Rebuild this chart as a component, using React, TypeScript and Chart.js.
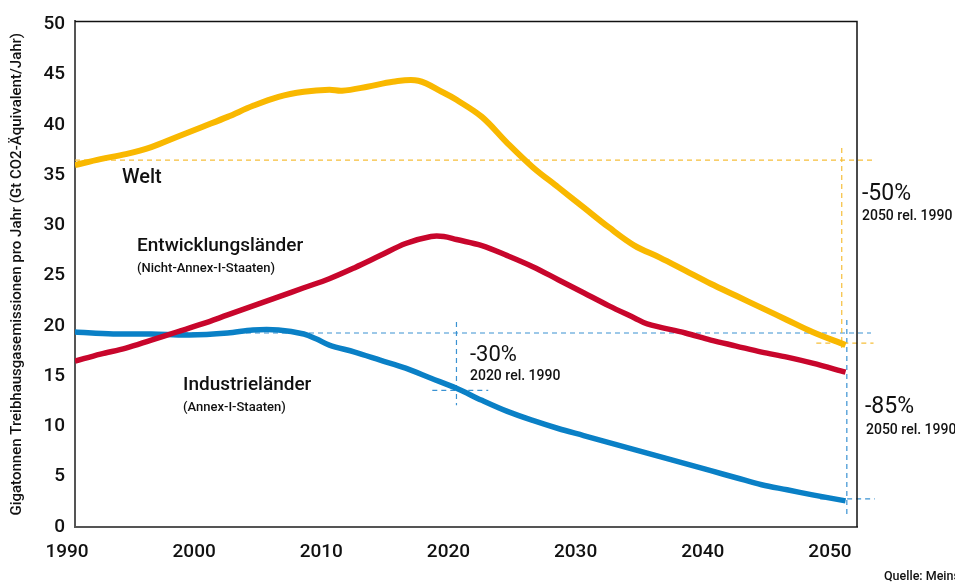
import React, { useEffect, useRef } from "react";
import { Chart, registerables } from "chart.js";

Chart.register(...registerables);

// ---- Data (Gt CO2-Äquivalent / Jahr) ----
const xTickYears = [1990, 2000, 2010, 2020, 2030, 2040, 2050];

const weltYears = [1990, 1992, 1994, 1996, 1998, 2000, 2002, 2004, 2006, 2008, 2010, 2011, 2013, 2015, 2017, 2019, 2020, 2022, 2024, 2026, 2028, 2030, 2032, 2034, 2036, 2038, 2040, 2042, 2044, 2046, 2048, 2050.6];
const weltValues = [36.0, 36.6, 37.1, 37.8, 38.8, 39.8, 40.8, 41.9, 42.8, 43.3, 43.5, 43.4, 43.8, 44.3, 44.4, 43.2, 42.5, 40.8, 38.2, 35.8, 33.8, 31.8, 29.8, 28.0, 26.8, 25.5, 24.2, 23.0, 21.8, 20.6, 19.4, 18.1];

const entwYears = [1990, 1992, 1994, 1996, 1998, 2000, 2002, 2004, 2006, 2008, 2010, 2012, 2014, 2016, 2018, 2019, 2020, 2022, 2024, 2026, 2028, 2030, 2032, 2034, 2035, 2038, 2040, 2042, 2044, 2046, 2048, 2050.6];
const entwValues = [16.5, 17.2, 17.8, 18.6, 19.4, 20.2, 21.1, 22.0, 22.9, 23.8, 24.7, 25.8, 27.0, 28.2, 28.9, 28.9, 28.6, 28.0, 27.0, 25.9, 24.6, 23.3, 22.0, 20.8, 20.2, 19.3, 18.6, 18.0, 17.4, 16.9, 16.3, 15.4];

const indYears = [1990, 1993, 1996, 1999, 2002, 2004, 2006, 2008, 2009, 2010, 2012, 2014, 2016, 2018, 2020, 2022, 2024, 2026, 2028, 2030, 2032, 2034, 2036, 2038, 2040, 2042, 2044, 2046, 2048, 2050.6];
const indValues = [19.4, 19.2, 19.2, 19.1, 19.3, 19.6, 19.6, 19.2, 18.7, 18.1, 17.4, 16.6, 15.8, 14.8, 13.8, 12.6, 11.5, 10.6, 9.8, 9.1, 8.4, 7.7, 7.0, 6.3, 5.6, 4.9, 4.2, 3.7, 3.2, 2.6];

// Reference (dashed) guide lines, in data units: [x0, y0, x1, y1]
const weltRefH = [1990, 36.5, 2052.7, 36.5];
const weltRefV = [2050.3, 37.7, 2050.3, 17.8];
const weltRefShort = [2048.3, 18.3, 2052.8, 18.3];
const indRefH = [1990, 19.3, 2052.6, 19.3];
const indRefV2020 = [2020, 20.4, 2020, 12.1];
const indRefShort2020 = [2018.1, 13.6, 2022.5, 13.6];
const indRefV2050 = [2050.7, 20.6, 2050.7, 1.2];
const indRefShort2050 = [2048.6, 2.8, 2052.9, 2.8];

const YELLOW = "#F9B800";
const RED = "#C8062C";
const BLUE = "#0A80C6";
const YELLOW_DASH = "#F6BF3A";
const BLUE_DASH = "#3A92D2";

const FONT = "Roboto, 'DejaVu Sans', sans-serif";

function toPoints(xs: number[], ys: number[]) {
  return xs.map((x, i) => ({ x, y: ys[i] }));
}
function seg(s: number[]) {
  return [
    { x: s[0], y: s[1] },
    { x: s[2], y: s[3] },
  ];
}

function dashed(data: number[], color: string) {
  return {
    data: seg(data),
    borderColor: color,
    borderWidth: 1.2,
    borderDash: [5, 4],
    pointRadius: 0,
    fill: false,
    clip: false as any,
    order: 10,
    tension: 0,
  };
}

function mainLine(label: string, xs: number[], ys: number[], color: string, width: number, order: number) {
  return {
    label,
    data: toPoints(xs, ys),
    borderColor: color,
    borderWidth: width,
    pointRadius: 0,
    tension: 0.35,
    borderCapStyle: "butt",
    borderJoinStyle: "round",
    order,
  };
}

const overlay = {
  id: "overlay",
  afterDraw(chart: any) {
    const ctx = chart.ctx as CanvasRenderingContext2D;
    const a = chart.chartArea;
    ctx.save();
    // top and right frame
    ctx.strokeStyle = "#111";
    ctx.lineWidth = 1.5;
    ctx.beginPath();
    ctx.moveTo(a.left, a.top);
    ctx.lineTo(a.right, a.top);
    ctx.lineTo(a.right, a.bottom);
    ctx.stroke();

    ctx.fillStyle = "#111";
    ctx.textBaseline = "middle";
    ctx.textAlign = "left";
    const t = (s: string, x: number, y: number, size: number, weight = 500) => {
      ctx.font = `${weight} ${size}px ${FONT}`;
      ctx.fillText(s, x, y);
    };
    t("Welt", 122, 178, 20);
    t("Entwicklungsländer", 137, 246, 19);
    t("(Nicht-Annex-I-Staaten)", 137, 269, 13);
    t("Industrieländer", 183, 385, 19);
    t("(Annex-I-Staaten)", 183, 408, 13);
    t("-30%", 470, 355, 22, 400);
    t("2020 rel. 1990", 470, 376, 14);
    t("-50%", 862, 194, 23, 400);
    t("2050 rel. 1990", 862, 216, 14);
    t("-85%", 865, 407, 23, 400);
    t("2050 rel. 1990", 866, 430, 14);
    t("Quelle: Meinshausen et al.", 884, 577, 12.5);
    ctx.restore();
  },
};

export default function App() {
  const ref = useRef<HTMLCanvasElement | null>(null);

  useEffect(() => {
    if (!ref.current) return;
    const chart = new Chart(ref.current, {
      type: "line",
      data: {
        datasets: [
          mainLine("Welt", weltYears, weltValues, YELLOW, 6, 1),
          mainLine("Entwicklungsländer", entwYears, entwValues, RED, 5.5, 2),
          mainLine("Industrieländer", indYears, indValues, BLUE, 5.5, 3),
          dashed(weltRefH, YELLOW_DASH),
          dashed(weltRefV, YELLOW_DASH),
          dashed(weltRefShort, YELLOW_DASH),
          dashed(indRefH, BLUE_DASH),
          dashed(indRefV2020, BLUE_DASH),
          dashed(indRefShort2020, BLUE_DASH),
          dashed(indRefV2050, BLUE_DASH),
          dashed(indRefShort2050, BLUE_DASH),
        ] as any,
      },
      options: {
        animation: false,
        responsive: false,
        layout: { padding: { left: 0, top: 18, right: 98, bottom: 0 } },
        plugins: {
          legend: { display: false },
          tooltip: { enabled: false },
        },
        scales: {
          x: {
            type: "linear",
            min: 1990,
            max: 2051.5,
            grid: { display: false, drawTicks: false },
            border: { display: true, color: "#555", width: 2 },
            afterFit: (s: any) => {
              s.height = 57;
            },
            afterBuildTicks: (s: any) => {
              s.ticks = xTickYears.map((v) => ({ value: v }));
            },
            ticks: {
              includeBounds: false,
              labelOffset: -8,
              padding: 14,
              maxRotation: 0,
              autoSkip: false,
              color: "#111",
              font: { family: FONT, size: 19, weight: "500" },
              callback: (v: any) => String(v),
            },
          },
          y: {
            type: "linear",
            min: 0,
            max: 50.3,
            grid: { display: false, drawTicks: false },
            border: { display: true, color: "#555", width: 2 },
            afterFit: (s: any) => {
              s.width = 75;
            },
            ticks: {
              stepSize: 5,
              includeBounds: false,
              padding: 10,
              color: "#111",
              font: { family: FONT, size: 19, weight: "500" },
            },
            title: {
              display: true,
              text: "Gigatonnen Treibhausgasemissionen pro Jahr (Gt CO2-Äquivalent/Jahr)",
              color: "#111",
              font: { family: FONT, size: 15, weight: "500" },
              padding: { top: 8, bottom: 0 },
            },
          },
        },
      } as any,
      plugins: [overlay],
    });
    return () => chart.destroy();
  }, []);

  return (
    <div style={{ position: "fixed", left: 0, top: 0, width: 955, height: 584, background: "#fff" }}>
      <canvas ref={ref} width={955} height={584} style={{ display: "block" }} />
    </div>
  );
}
